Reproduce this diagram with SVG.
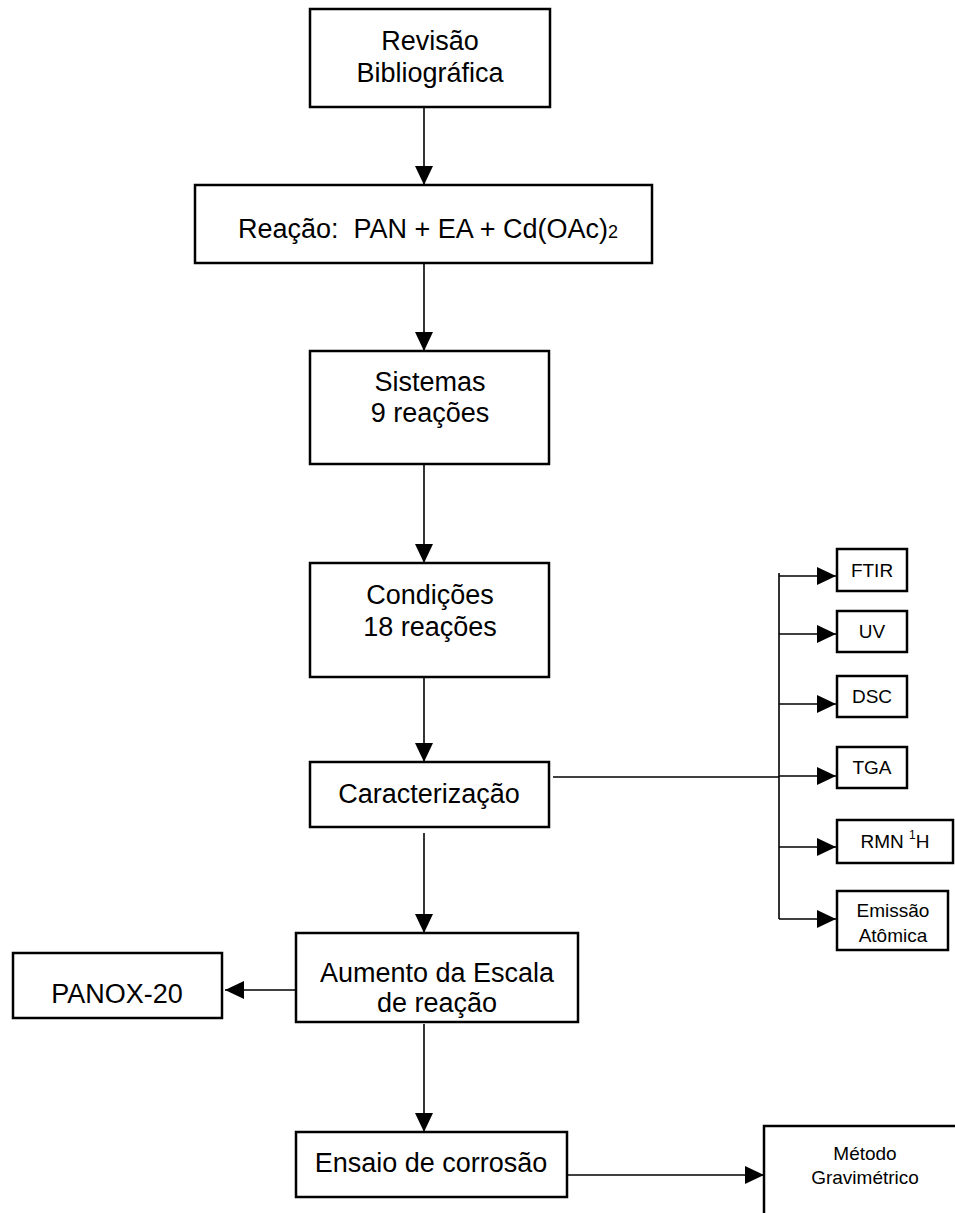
<svg xmlns="http://www.w3.org/2000/svg" width="955" height="1213" viewBox="0 0 955 1213">
<style>
.box{fill:#fff;stroke:#000;stroke-width:2.5}
.t{font-family:"Liberation Sans",Arial,sans-serif;font-size:27px;fill:#000;text-anchor:middle}
.s{font-family:"Liberation Sans",Arial,sans-serif;font-size:19px;fill:#000;text-anchor:middle}
.c{fill:none;stroke:#000;stroke-width:1.6}
</style>
<defs>
<marker id="ah" viewBox="0 0 19 18" refX="19" refY="9" markerWidth="19" markerHeight="18" markerUnits="userSpaceOnUse" orient="auto">
<path d="M0,0 L19,9 L0,18 Z" fill="#000"/>
</marker>
</defs>
<rect width="955" height="1213" fill="#fff"/>
<g id="connectors">
<line class="c" x1="424" y1="108" x2="424" y2="185" marker-end="url(#ah)"/>
<line class="c" x1="424" y1="264" x2="424" y2="351" marker-end="url(#ah)"/>
<line class="c" x1="424" y1="465" x2="424" y2="563" marker-end="url(#ah)"/>
<line class="c" x1="424" y1="678" x2="424" y2="762" marker-end="url(#ah)"/>
<line class="c" x1="424" y1="833" x2="424" y2="933" marker-end="url(#ah)"/>
<line class="c" x1="424" y1="1024" x2="424" y2="1132" marker-end="url(#ah)"/>
<line class="c" x1="296" y1="990" x2="225" y2="990" marker-end="url(#ah)"/>
<line class="c" x1="567" y1="1175" x2="764" y2="1175" marker-end="url(#ah)"/>
<line class="c" x1="553" y1="777" x2="779" y2="777"/>
<line class="c" x1="779" y1="573" x2="779" y2="919"/>
<line class="c" x1="779" y1="576" x2="836" y2="576" marker-end="url(#ah)"/>
<line class="c" x1="779" y1="634" x2="836" y2="634" marker-end="url(#ah)"/>
<line class="c" x1="779" y1="704" x2="836" y2="704" marker-end="url(#ah)"/>
<line class="c" x1="779" y1="776" x2="836" y2="776" marker-end="url(#ah)"/>
<line class="c" x1="779" y1="847" x2="836" y2="847" marker-end="url(#ah)"/>
<line class="c" x1="779" y1="919" x2="836" y2="919" marker-end="url(#ah)"/>
</g>
<g id="revisao">
<rect class="box" x="310" y="9" width="240" height="98"/>
<text class="t" x="430" y="50">Revisão</text>
<text class="t" x="430" y="82">Bibliográfica</text>
</g>
<g id="reacao">
<rect class="box" x="195" y="185" width="457" height="78"/>
<text class="t" x="428" y="238" font-size="28" xml:space="preserve" style="white-space:pre">Reação:  PAN + EA + Cd(OAc)<tspan font-size="18">2</tspan></text>
</g>
<g id="sistemas">
<rect class="box" x="310" y="351" width="239" height="113"/>
<text class="t" x="430" y="391">Sistemas</text>
<text class="t" x="430" y="422">9 reações</text>
</g>
<g id="condicoes">
<rect class="box" x="310" y="563" width="239" height="114"/>
<text class="t" x="430" y="604">Condições</text>
<text class="t" x="430" y="636">18 reações</text>
</g>
<g id="caracterizacao">
<rect class="box" x="310" y="762" width="239" height="65"/>
<text class="t" x="429" y="803">Caracterização</text>
</g>
<g id="aumento">
<rect class="box" x="296" y="933" width="282" height="89"/>
<text class="t" x="437" y="982">Aumento da Escala</text>
<text class="t" x="437" y="1012">de reação</text>
</g>
<g id="panox">
<rect class="box" x="13" y="953" width="209" height="65"/>
<text class="t" x="117" y="1003">PANOX-20</text>
</g>
<g id="ensaio">
<rect class="box" x="296" y="1132" width="271" height="65"/>
<text class="t" x="431" y="1172">Ensaio de corrosão</text>
</g>
<g id="metodo">
<rect class="box" x="764" y="1126" width="210" height="100"/>
<text class="s" x="865" y="1160">Método</text>
<text class="s" x="865" y="1184">Gravimétrico</text>
</g>
<g id="ftir">
<rect class="box" x="837" y="549" width="70" height="42"/>
<text class="s" x="872" y="577">FTIR</text>
</g>
<g id="uv">
<rect class="box" x="837" y="611" width="70" height="41"/>
<text class="s" x="872" y="638">UV</text>
</g>
<g id="dsc">
<rect class="box" x="837" y="676" width="70" height="41"/>
<text class="s" x="872" y="703">DSC</text>
</g>
<g id="tga">
<rect class="box" x="837" y="747" width="70" height="41"/>
<text class="s" x="872" y="774">TGA</text>
</g>
<g id="rmn">
<rect class="box" x="837" y="820" width="116" height="43"/>
<text class="s" x="895" y="848">RMN <tspan font-size="12" dy="-9">1</tspan><tspan dy="9">H</tspan></text>
</g>
<g id="emissao">
<rect class="box" x="837" y="891" width="111" height="59"/>
<text class="s" x="893" y="917">Emissão</text>
<text class="s" x="893" y="942">Atômica</text>
</g>
</svg>
